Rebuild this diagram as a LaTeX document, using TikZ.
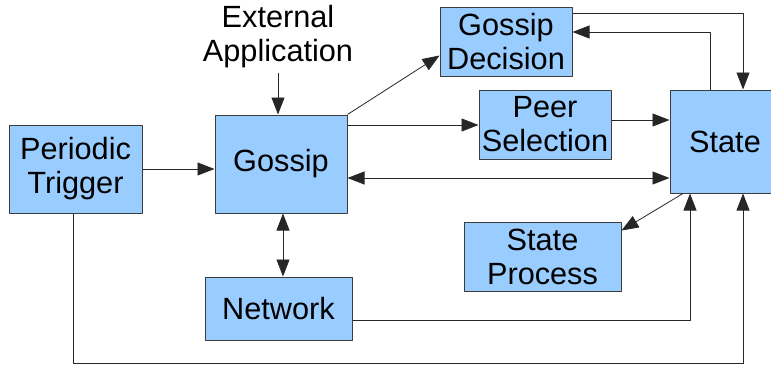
\documentclass[tikz,border=0pt]{standalone}
\usepackage{fontspec}
\setmainfont{Liberation Sans}
\usetikzlibrary{arrows.meta}
\definecolor{boxblue}{HTML}{99CCFF}
\definecolor{edgegray}{HTML}{3C3C3C}
\begin{document}
\begin{tikzpicture}[x=1pt,y=-1pt,font=\fontsize{30.7}{34}\selectfont,line join=round,>={Triangle[length=17pt,width=13pt]},
	blk/.style={draw=edgegray,fill=boxblue,line width=1pt,inner sep=0pt,align=center},
	lnk/.style={line width=0.8pt,black!85}]
	\useasboundingbox (0,0) rectangle (771,367);
	% boxes
	\node[blk,minimum width=133pt,minimum height=88pt] (trigger) at (75.5,169) {Periodic\\Trigger};
	\node[blk,minimum width=132pt,minimum height=98pt] (gossip) at (281,164) {Gossip};
	\node[blk,minimum width=147pt,minimum height=63pt] (network) at (278.5,308.5) {Network};
	\node[blk,minimum width=132pt,minimum height=69pt] (decision) at (506,41.5) {Gossip\\Decision};
	\node[blk,minimum width=132pt,minimum height=69pt] (peer) at (545,124.5) {Peer\\Selection};
	\node[blk,minimum width=110pt,minimum height=103pt] (state) at (725,141.5) {State};
	\node[blk,minimum width=157pt,minimum height=69pt] (process) at (542.5,256.5) {State\\Process};
	\node[align=center,inner sep=0pt] (ext) at (278,37) {External\\Application};
	% connectors
	\draw[lnk,->] (ext.south) ++(0,4) -- (gossip.north -| ext.south);
	\draw[lnk,->] (trigger.east) -- (trigger.east -| gossip.west);
	\draw[lnk,->] (gossip.north east) -- ([yshift=-14pt]decision.west);
	\draw[lnk,->] (gossip.east |- 0,125) -- (peer.west |- 0,125);
	\draw[lnk,->] (peer.east |- 0,120) -- (state.west |- 0,120);
	\draw[lnk,<->] (gossip.east |- 0,178) -- (state.west |- 0,178);
	\draw[lnk,<->] (gossip.south -| 283,0) -- (network.north -| 283,0);
	\draw[lnk,->] (decision.east |- 0,13) -| (state.north -| 743,0);
	\draw[lnk,->] (state.north -| 710,0) |- (decision.east |- 0,32);
	\draw[lnk,->] (state.south -| 683,0) -- ([yshift=-9pt]process.north east);
	\draw[lnk,->] (network.east |- 0,320) -| (state.south -| 690,0);
	\draw[lnk,->] (trigger.south -| 73,0) -- ++(0,150) -| (state.south -| 743,0);
\end{tikzpicture}
\end{document}
